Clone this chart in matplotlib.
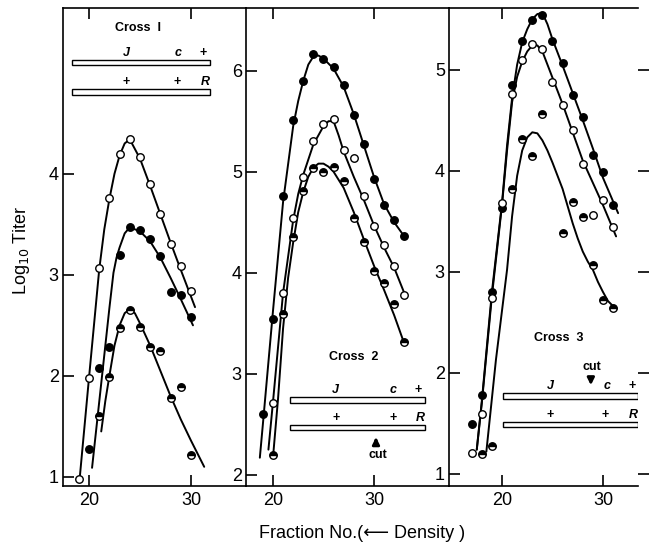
import matplotlib
matplotlib.use("Agg")
import matplotlib.pyplot as plt
from matplotlib.patches import Rectangle

plt.rcParams['font.family'] = ['Liberation Sans', 'DejaVu Sans']

# ---------------- data ----------------
# Cross 1
p1_open_x = [19, 20, 21, 22, 23, 24, 25, 26, 27, 28, 29, 30]
p1_open_y = [0.98, 1.98, 3.07, 3.76, 4.20, 4.34, 4.17, 3.90, 3.60, 3.30, 3.09, 2.84]
p1_fill_x = [20, 21, 22, 23, 24, 25, 26, 27, 28, 29, 30]
p1_fill_y = [1.28, 2.08, 2.29, 3.20, 3.47, 3.44, 3.35, 3.19, 2.83, 2.80, 2.58]
p1_half_x = [21, 22, 23, 24, 25, 26, 27, 28, 29, 30]
p1_half_y = [1.60, 1.99, 2.47, 2.65, 2.48, 2.29, 2.25, 1.78, 1.89, 1.22]

p1_open_cx = [19.1, 20, 21, 21.5, 22, 22.5, 23, 23.5, 24, 25, 26, 27, 28, 29, 30.4]
p1_open_cy = [1.00, 1.98, 3.05, 3.45, 3.75, 4.00, 4.18, 4.30, 4.34, 4.15, 3.88, 3.60, 3.32, 3.05, 2.68]
p1_fill_cx = [20.3, 21, 22, 22.4, 22.7, 23, 23.5, 24, 25, 26, 27, 28, 29, 30.2]
p1_fill_cy = [1.09, 1.74, 2.67, 3.02, 3.17, 3.27, 3.41, 3.47, 3.43, 3.33, 3.17, 2.97, 2.76, 2.50]
p1_half_cx = [21.2, 21.6, 22, 22.5, 23, 23.5, 24, 24.5, 25, 26, 27, 28, 29, 30, 31.3]
p1_half_cy = [1.45, 1.75, 2.00, 2.30, 2.50, 2.62, 2.66, 2.62, 2.52, 2.30, 2.05, 1.80, 1.57, 1.36, 1.10]

# Cross 2
p2_fill_x = [19, 20, 21, 22, 23, 24, 25, 26, 27, 28, 29, 30, 31, 32, 33]
p2_fill_y = [2.60, 3.54, 4.76, 5.51, 5.90, 6.16, 6.12, 6.04, 5.86, 5.56, 5.27, 4.93, 4.67, 4.52, 4.36]
p2_open_x = [20, 21, 22, 23, 24, 25, 26, 27, 28, 29, 30, 31, 32, 33]
p2_open_y = [2.71, 3.80, 4.54, 4.95, 5.30, 5.47, 5.52, 5.21, 5.14, 4.76, 4.46, 4.27, 4.07, 3.78]
p2_half_x = [20, 21, 22, 23, 24, 25, 26, 27, 28, 29, 30, 31, 32, 33]
p2_half_y = [2.20, 3.59, 4.35, 4.81, 5.04, 5.00, 5.05, 4.91, 4.54, 4.30, 4.02, 3.90, 3.69, 3.31]

p2_fill_cx = [18.7, 19, 20, 21, 22, 22.5, 23, 23.5, 24, 24.5, 25, 26, 27, 28, 29, 30, 31, 32, 33]
p2_fill_cy = [2.17, 2.50, 3.62, 4.70, 5.45, 5.70, 5.90, 6.06, 6.14, 6.15, 6.12, 6.02, 5.84, 5.57, 5.26, 4.95, 4.68, 4.50, 4.36]
p2_open_cx = [19.55, 20, 21, 22, 22.5, 23, 24, 25, 25.5, 26, 26.5, 27, 28, 29, 30, 31, 32, 33.2]
p2_open_cy = [2.25, 2.72, 3.80, 4.52, 4.78, 4.97, 5.27, 5.45, 5.50, 5.50, 5.36, 5.20, 4.95, 4.72, 4.47, 4.25, 4.05, 3.75]
p2_half_cx = [20, 20.5, 21, 21.5, 22, 22.5, 23, 23.5, 24, 24.5, 25, 25.5, 26, 27, 28, 29, 30, 31, 32, 33]
p2_half_cy = [2.17, 2.75, 3.45, 3.95, 4.30, 4.60, 4.80, 4.95, 5.04, 5.08, 5.08, 5.05, 5.00, 4.84, 4.60, 4.33, 4.07, 3.83, 3.58, 3.30]

# Cross 3
p3_fill_x = [17, 18, 19, 20, 21, 22, 23, 24, 25, 26, 27, 28, 29, 30, 31]
p3_fill_y = [1.49, 1.78, 2.80, 3.63, 4.85, 5.28, 5.49, 5.54, 5.28, 5.07, 4.75, 4.53, 4.16, 3.99, 3.66]
p3_open_x = [17, 18, 19, 20, 21, 22, 23, 24, 25, 26, 27, 28, 29, 30, 31]
p3_open_y = [1.21, 1.59, 2.74, 3.68, 4.76, 5.10, 5.25, 5.20, 4.88, 4.65, 4.40, 4.07, 3.56, 3.71, 3.44]
p3_half_x = [18, 19, 21, 22, 23, 24, 26, 27, 28, 29, 30, 31]
p3_half_y = [1.20, 1.28, 3.82, 4.31, 4.15, 4.56, 3.38, 3.69, 3.54, 3.07, 2.72, 2.64]

p3_fill_cx = [17.5, 18, 19, 20, 20.5, 21, 21.5, 22, 22.5, 23, 23.5, 24, 24.5, 25, 26, 27, 28, 29, 30, 31.5]
p3_fill_cy = [1.24, 1.72, 2.80, 3.68, 4.25, 4.72, 5.05, 5.27, 5.40, 5.50, 5.55, 5.56, 5.45, 5.30, 5.04, 4.77, 4.50, 4.22, 3.93, 3.58]
p3_open_cx = [17.5, 18, 19, 20, 20.5, 21, 21.5, 22, 22.5, 23, 23.5, 24, 25, 26, 27, 28, 29, 30, 31.3]
p3_open_cy = [1.24, 1.70, 2.76, 3.66, 4.20, 4.68, 4.93, 5.08, 5.18, 5.24, 5.24, 5.18, 4.92, 4.66, 4.38, 4.10, 3.88, 3.66, 3.35]
p3_half_cx = [18.45, 19.4, 20.5, 21, 21.5, 22, 22.5, 23, 23.5, 24, 24.5, 25, 25.5, 26, 26.5, 27, 27.5, 28, 28.5, 29, 29.5, 30, 30.5, 31.1]
p3_half_cy = [1.22, 2.13, 3.02, 3.55, 3.95, 4.20, 4.33, 4.38, 4.37, 4.30, 4.20, 4.08, 3.95, 3.82, 3.65, 3.48, 3.33, 3.20, 3.10, 3.02, 2.90, 2.80, 2.71, 2.65]

x_ticks = [20, 30]
p1_yticks = [1, 2, 3, 4]
p2_yticks = [2, 3, 4, 5, 6]
p3_yticks = [1, 2, 3, 4, 5]
cross_titles = ["Cross  I", "Cross  2", "Cross  3"]
top_bar_labels = ["J", "c", "+"]
bottom_bar_labels = ["+", "+", "R"]

# ---------------- figure ----------------
W, H = 649, 547
fig = plt.figure(figsize=(W / 100, H / 100), dpi=100)

bot = 1 - 486 / H
hgt = (486 - 8) / H
ax1 = fig.add_axes([63 / W, bot, 183 / W, hgt])
ax2 = fig.add_axes([246 / W, bot, 203 / W, hgt])
ax3 = fig.add_axes([449 / W, bot, 189 / W, hgt])

ax1.set_xlim(17.45, 35.4); ax1.set_ylim(0.91, 5.64)
ax2.set_xlim(17.33, 37.43); ax2.set_ylim(1.89, 6.62)
ax3.set_xlim(14.75, 33.47); ax3.set_ylim(0.88, 5.61)

LW = 1.4
MS = 5.4
MEW = 1.0


def draw(ax, cx, cy, x, y, kind):
    ax.plot(cx, cy, color='black', lw=LW, zorder=2, solid_capstyle='round')
    if kind == 'open':
        ax.plot(x, y, 'o', ms=MS, mfc='white', mec='black', mew=MEW, zorder=3)
    elif kind == 'fill':
        ax.plot(x, y, 'o', ms=MS, mfc='black', mec='black', mew=MEW, zorder=3)
    else:
        ax.plot(x, y, 'o', ms=MS, mfc='black', mec='black', mew=MEW,
                fillstyle='top', markerfacecoloralt='white', zorder=3)


draw(ax1, p1_open_cx, p1_open_cy, p1_open_x, p1_open_y, 'open')
draw(ax1, p1_fill_cx, p1_fill_cy, p1_fill_x, p1_fill_y, 'fill')
draw(ax1, p1_half_cx, p1_half_cy, p1_half_x, p1_half_y, 'half')

draw(ax2, p2_fill_cx, p2_fill_cy, p2_fill_x, p2_fill_y, 'fill')
draw(ax2, p2_open_cx, p2_open_cy, p2_open_x, p2_open_y, 'open')
draw(ax2, p2_half_cx, p2_half_cy, p2_half_x, p2_half_y, 'half')

draw(ax3, p3_fill_cx, p3_fill_cy, p3_fill_x, p3_fill_y, 'fill')
draw(ax3, p3_open_cx, p3_open_cy, p3_open_x, p3_open_y, 'open')
draw(ax3, p3_half_cx, p3_half_cy, p3_half_x, p3_half_y, 'half')

for ax, yt in ((ax1, p1_yticks), (ax2, p2_yticks), (ax3, p3_yticks)):
    ax.set_xticks(x_ticks)
    ax.set_yticks(yt)
    ax.tick_params(axis='both', direction='in', length=8, width=1.2,
                   labelsize=13, top=True, right=False, pad=4)
    ax.tick_params(axis='y', pad=3)
    ax.spines['right'].set_visible(False)
    for s in ('left', 'top', 'bottom'):
        ax.spines[s].set_linewidth(1.2)
    ax.patch.set_alpha(0)

ax3r = ax3.twinx()
ax3r.set_ylim(ax3.get_ylim())
ax3r.set_yticks(p3_yticks)
ax3r.tick_params(axis='y', direction='out', length=8, width=1.2, labelright=False)
for s in ax3r.spines.values():
    s.set_visible(False)


def gene_bars(ax, x0, x1, y_top, y_bot, xs_top, xs_bot, h):
    for yc, xs, labs in ((y_top, xs_top, top_bar_labels), (y_bot, xs_bot, bottom_bar_labels)):
        ax.add_patch(Rectangle((x0, yc - h / 2), x1 - x0, h, facecolor='white',
                               edgecolor='black', lw=1.0, zorder=4))
        for xx, lab in zip(xs, labs):
            style = 'italic' if lab != '+' else 'normal'
            ax.text(xx, yc + h / 2 + 0.01, lab, ha='center', va='bottom',
                    fontsize=9, fontweight='bold', fontstyle=style, zorder=5)


# Cross 1
ax1.text(24.8, 5.44, cross_titles[0], ha='center', va='center', fontsize=9, fontweight='bold')
gene_bars(ax1, 18.33, 31.86, 5.10, 4.81, [23.7, 28.7, 31.2], [23.6, 28.6, 31.4], 0.055)

# Cross 2
ax2.text(28.0, 3.17, cross_titles[1], ha='center', va='center', fontsize=9, fontweight='bold')
gene_bars(ax2, 21.7, 35.05, 2.74, 2.47, [26.2, 31.9, 34.4], [26.3, 31.9, 34.6], 0.055)
ax2.annotate('', xy=(30.2, 2.40), xytext=(30.2, 2.29),
             arrowprops=dict(arrowstyle='-|>', color='black', lw=2.0, mutation_scale=10))
ax2.text(30.4, 2.20, 'cut', ha='center', va='center', fontsize=9, fontweight='bold')

# Cross 3
ax3.text(25.6, 2.34, cross_titles[2], ha='center', va='center', fontsize=9, fontweight='bold')
gene_bars(ax3, 20.1, 33.45, 1.77, 1.49, [24.75, 30.4, 32.9], [24.75, 30.2, 33.0], 0.055)
ax3.annotate('', xy=(28.8, 1.85), xytext=(28.8, 1.97),
             arrowprops=dict(arrowstyle='-|>', color='black', lw=2.0, mutation_scale=10))
ax3.text(28.9, 2.06, 'cut', ha='center', va='center', fontsize=9, fontweight='bold')

fig.text(22 / W, 1 - 250 / H, 'Log$_{10}$ Titer', rotation=90, ha='center', va='center', fontsize=13)
fig.text(362 / W, 1 - 533 / H, 'Fraction No.(\u27f5 Density )', ha='center', va='center', fontsize=13)

fig.savefig('out.png', dpi=100)
